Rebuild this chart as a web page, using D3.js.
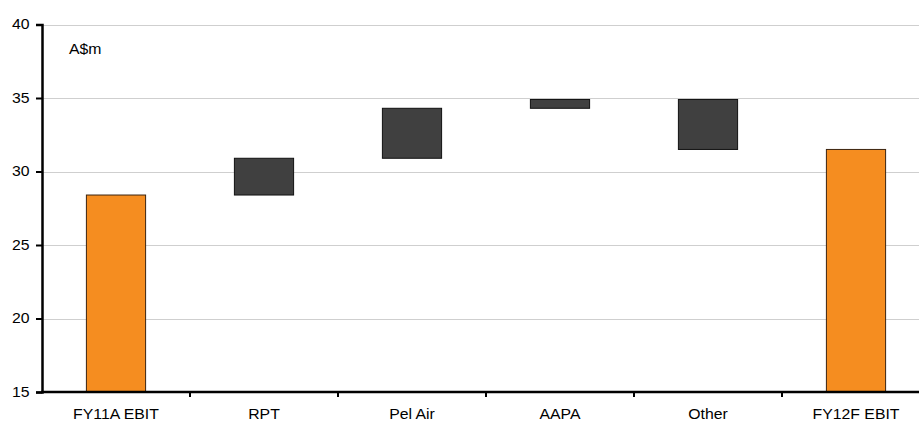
<!DOCTYPE html>
<html>
<head>
<meta charset="utf-8">
<script src="https://cdn.jsdelivr.net/npm/d3@7"></script>
<style>
  body { margin: 0; background: #fff; }
  svg text { font-family: "Liberation Sans", Arial, sans-serif; font-size: 14px; fill: #000; }
</style>
</head>
<body>
<div id="graph"></div>
<script>
// waterfall pieces: bottom and top of each floating bar
var categories = ["FY11A EBIT", "RPT", "Pel Air", "AAPA", "Other", "FY12F EBIT"];
var barLow  = [15, 28.4, 30.9, 34.3, 31.5, 15];
var barHigh = [28.4, 30.9, 34.3, 34.9, 34.9, 31.5];
var isTotal = [true, false, false, false, false, true];
var yTicks = [15, 20, 25, 30, 35, 40];

function setup() {
  var width = 919, height = 421;
  var margin = {left: 42, right: -11, top: 24, bottom: 29};
  var stretch = 1.13; // text in the original is a bit wide

  var svg = d3.select("#graph")
    .append("svg")
    .attr("width", width)
    .attr("height", height)

  var x = d3.scaleBand()
    .domain(categories)
    .range([margin.left, width - margin.right])
    .paddingInner(0.6)
    .paddingOuter(0.3)

  var y = d3.scaleLinear()
    .domain([15, 40])
    .range([height - margin.bottom, margin.top + 0.5])

  // gridlines
  svg.append("g")
    .selectAll("line")
    .data(yTicks.filter(d => d > 15))
    .enter()
    .append("line")
    .attr("x1", margin.left)
    .attr("x2", width)
    .attr("y1", d => Math.round(y(d)) + 0.5)
    .attr("y2", d => Math.round(y(d)) + 0.5)
    .attr("stroke", "#cfcfcf")
    .attr("stroke-width", 1)

  // bars
  svg.append("g")
    .selectAll("rect")
    .data(categories)
    .enter()
    .append("rect")
    .attr("x", d => x(d))
    .attr("width", x.bandwidth())
    .attr("y", (d, i) => y(barHigh[i]))
    .attr("height", (d, i) => y(barLow[i]) - y(barHigh[i]))
    .attr("fill", (d, i) => isTotal[i] ? "#F58D20" : "#404040")
    .attr("stroke", (d, i) => isTotal[i] ? "#3a2410" : "#111")
    .attr("stroke-width", 1)

  // y axis
  var yAxis = svg.append("g")
    .attr("transform", "translate(" + margin.left + ",0)")
    .call(d3.axisLeft(y).tickValues(yTicks).tickSize(6).tickPadding(5))
  yAxis.select(".domain").attr("stroke-width", 2.5)
  yAxis.selectAll(".tick line").attr("stroke-width", 2)
  yAxis.selectAll("text")
    .attr("transform", "scale(" + stretch + ",1)")

  // x axis with ticks at the category boundaries
  var step = x.step();
  var xAxis = svg.append("g")
    .attr("transform", "translate(0," + y(15) + ")")
  xAxis.append("line")
    .attr("x1", margin.left - 1)
    .attr("x2", width)
    .attr("stroke", "#000")
    .attr("stroke-width", 2.5)
  xAxis.selectAll(".sep")
    .data(categories.slice(1))
    .enter()
    .append("line")
    .attr("class", "sep")
    .attr("x1", (d, i) => margin.left + step * (i + 1))
    .attr("x2", (d, i) => margin.left + step * (i + 1))
    .attr("y1", 0)
    .attr("y2", 5)
    .attr("stroke", "#000")
    .attr("stroke-width", 2)
  xAxis.selectAll("text")
    .data(categories)
    .enter()
    .append("text")
    .attr("transform", d => "translate(" + (x(d) + x.bandwidth() / 2) + ",27) scale(" + stretch + ",1)")
    .attr("text-anchor", "middle")
    .text(d => d)

  svg.append("text")
    .attr("transform", "translate(69,54) scale(" + stretch + ",1)")
    .text("A$m")
}

window.addEventListener('load', setup)
</script>
</body>
</html>
